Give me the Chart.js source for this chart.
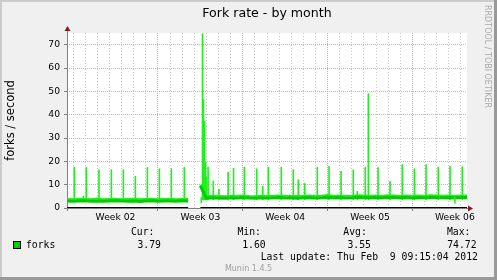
<!DOCTYPE html>
<html>
<head>
<meta charset="utf-8">
<script src="https://cdn.jsdelivr.net/npm/chart.js@4.4.0/dist/chart.umd.min.js"></script>
<style>
  html, body { margin: 0; padding: 0; background: #f0f0f0; }
  canvas { display: block; }
</style>
</head>
<body>
<canvas id="forkChart" width="497" height="280"></canvas>
<script>
// munin "month" graph: 33 days up to Thu Feb 9 09:15:04 2012, x is days since start
const sampleStep = 0.5;

// average forks/s, one value every half day (null = no data)
const avgValues = [
  3.0, 2.9, 3.0, 3.1, 2.9, 3.0, 2.9, 3.0, 3.1, 3.0, 2.9, 3.0, 2.8, 3.0, 3.1, 2.9, 3.0, 3.0, 2.9, 3.1, 3.0,
  null, 9.5,
  4.2, 4.4, 4.3, 4.2, 4.4, 4.3, 4.5, 4.3, 4.2, 4.4, 4.3, 4.4, 4.5, 4.3, 4.4, 4.2, 4.4, 4.5, 4.3, 4.4,
  4.6, 4.4, 4.5, 4.3, 4.4, 4.6, 4.5, 4.4, 4.5, 4.4, 4.6, 4.5, 4.4, 4.5, 4.3, 4.5, 4.4, 4.6, 4.5, 4.4,
  4.5, 4.4, 4.5, 4.5
];

// peak forks/s over the same half days
const maxValues = [
  3.9, 3.8, 4.0, 3.9, 3.8, 4.1, 3.8, 3.9, 4.0, 3.8, 3.9, 4.0, 3.7, 3.9, 4.0, 3.8, 3.9, 4.0, 3.8, 4.0, 3.9,
  null, 10.0,
  5.1, 5.3, 5.2, 5.0, 5.3, 5.2, 5.4, 5.1, 5.0, 5.3, 5.2, 5.3, 5.4, 5.2, 5.3, 5.1, 5.3, 5.4, 5.2, 5.3,
  5.6, 5.3, 5.4, 5.2, 5.3, 5.5, 5.4, 5.3, 5.4, 5.3, 5.5, 5.4, 5.3, 5.4, 5.2, 5.4, 5.3, 5.5, 5.4, 5.3,
  5.4, 5.3, 5.4, 5.4
];

// short bursts (day, forks/s)
const spikeDays = [
  0.60, 1.35, 1.59, 2.64, 3.66, 4.65, 5.64, 6.63, 7.62, 8.61, 9.68,
  11.18, 11.26, 11.35, 11.43, 11.51, 11.64, 12.07, 12.54, 13.29, 13.74, 14.63,
  15.65, 16.15, 16.61, 17.68, 18.67, 19.08, 19.61, 20.65, 21.62, 22.61,
  23.62, 23.95, 24.61, 24.86, 25.66, 26.65, 27.66, 28.66, 29.62, 30.63, 31.60, 32.61
];
const spikeValues = [
  17.5, 5.2, 17.4, 16.4, 16.4, 16.4, 13.6, 17.4, 16.8, 16.8, 17.4,
  74.7, 46.5, 37.2, 19.5, 13.4, 17.5, 11.6, 8.0, 15.3, 17.0, 17.5,
  16.8, 9.3, 17.5, 17.5, 16.4, 12.1, 10.5, 17.5, 17.9, 15.7,
  16.4, 7.1, 17.5, 49.0, 17.3, 11.4, 18.6, 16.8, 18.6, 17.5, 17.9, 17.7
];
const spikeFloor = 3.5;

// dips below the usual level
const dipDays = [11.08, 32.0];
const dipValues = [2.2, 2.1];
const dipCeil = 4.5;

const weekLabels = ['Week 02', 'Week 03', 'Week 04', 'Week 05', 'Week 06'];
const weekLabelDays = [4, 11, 18, 25, 32];
const weekStartDays = [7.5, 14.5, 21.5, 28.5];

const legendHeads = ['Cur:', 'Min:', 'Avg:', 'Max:'];
const legendValues = ['3.79', '1.60', '3.55', '74.72'];
const lastUpdate = 'Last update: Thu Feb  9 09:15:04 2012';

const SANS = '"DejaVu Sans", sans-serif';
const MONO = '"DejaVu Sans Mono", monospace';
const GRID_GRAY = '#c8c8c8';
const GRID_RED = '#e8a4a4';

const toPoints = (vals) => vals.map((v, i) => ({ x: i * sampleStep, y: v }));

const muninFrame = {
  id: 'muninFrame',
  beforeDraw(chart) {
    const { ctx, chartArea: a, width, height } = chart;
    ctx.save();
    ctx.fillStyle = '#f0f0f0';
    ctx.fillRect(0, 0, width, height);
    ctx.fillStyle = '#cbcbcb';
    ctx.fillRect(0, 0, width, 2);
    ctx.fillRect(0, 0, 2, height);
    ctx.fillStyle = '#999999';
    ctx.fillRect(0, height - 3, width, 3);
    ctx.fillRect(width - 3, 0, 3, height);
    ctx.fillStyle = '#ffffff';
    ctx.fillRect(a.left, a.top, a.right - a.left, a.bottom - a.top);
    ctx.restore();
  },
  beforeDatasetsDraw(chart) {
    const { ctx, chartArea: a } = chart;
    const y0 = Math.round(chart.scales.y.getPixelForValue(0)) + 0.5;
    ctx.save();
    ctx.strokeStyle = '#808080';
    ctx.lineWidth = 1;
    ctx.beginPath();
    ctx.moveTo(a.left - 3, y0);
    ctx.lineTo(a.right + 4, y0);
    ctx.moveTo(a.left + 0.5, a.bottom + 3);
    ctx.lineTo(a.left + 0.5, a.top - 4);
    ctx.stroke();
    ctx.restore();
  },
  afterDatasetsDraw(chart) {
    const { ctx, chartArea: a } = chart;
    const y0 = Math.round(chart.scales.y.getPixelForValue(0)) + 0.5;
    const xl = a.left + 0.5;
    ctx.save();
    ctx.fillStyle = '#7f1f1f';
    ctx.beginPath();
    ctx.moveTo(xl - 3, a.top - 2);
    ctx.lineTo(xl + 3, a.top - 2);
    ctx.lineTo(xl, a.top - 7);
    ctx.closePath();
    ctx.fill();
    ctx.beginPath();
    ctx.moveTo(a.right + 1, y0 - 3);
    ctx.lineTo(a.right + 1, y0 + 3);
    ctx.lineTo(a.right + 6, y0);
    ctx.closePath();
    ctx.fill();
    ctx.restore();
  },
  afterDraw(chart) {
    const { ctx, chartArea: a, width } = chart;
    ctx.save();
    ctx.fillStyle = '#000';
    ctx.textBaseline = 'middle';

    ctx.font = '12.6px ' + SANS;
    ctx.textAlign = 'center';
    ctx.fillText('Fork rate - by month', (a.left + a.right) / 2, 13.5);

    ctx.save();
    ctx.translate(11.5, (a.top + a.bottom) / 2);
    ctx.rotate(-Math.PI / 2);
    ctx.font = '11.5px ' + SANS;
    ctx.fillText('forks / second', 0, 0);
    ctx.restore();

    ctx.save();
    ctx.translate(487.5, 5);
    ctx.rotate(Math.PI / 2);
    ctx.textAlign = 'left';
    ctx.fillStyle = '#a8a8a8';
    ctx.font = '8px ' + SANS;
    ctx.fillText('RRDTOOL / TOBI OETIKER', 0, 0);
    ctx.restore();

    // legend
    ctx.fillStyle = '#00cc00';
    ctx.fillRect(13, 241, 8, 8);
    ctx.strokeStyle = '#000';
    ctx.lineWidth = 1;
    ctx.strokeRect(13.5, 241.5, 7, 7);

    ctx.fillStyle = '#000';
    ctx.textAlign = 'left';
    ctx.font = '9.75px ' + MONO;
    ctx.fillText('forks', 26, 245);
    const headX = [131, 237.4, 343.3, 447];
    const valX = [137.5, 242.2, 347.5, 447.2];
    legendHeads.forEach((h, i) => ctx.fillText(h, headX[i], 232.8));
    legendValues.forEach((v, i) => ctx.fillText(v, valX[i], 245));
    ctx.fillText(lastUpdate, 260.7, 257.2);

    ctx.fillStyle = '#a0a0a0';
    ctx.textAlign = 'center';
    ctx.font = '8px ' + SANS;
    ctx.fillText('Munin 1.4.5', width / 2, 268.8);
    ctx.restore();
  }
};

new Chart(document.getElementById('forkChart'), {
  type: 'line',
  data: {
    datasets: [
      {
        type: 'line',
        label: 'zero',
        data: avgValues.map((v, i) => ({ x: i * sampleStep, y: v === null ? null : 0 })),
        borderColor: '#000000',
        borderWidth: 2,
        pointRadius: 0,
        spanGaps: false,
        order: 1
      },
      {
        type: 'bar',
        label: 'dips',
        data: dipDays.map((d, i) => ({ x: d, y: [dipValues[i], dipCeil] })),
        backgroundColor: '#22ee22',
        barThickness: 1,
        grouped: false,
        order: 2
      },
      {
        type: 'line',
        label: 'forks',
        data: toPoints(avgValues),
        borderColor: '#00cc00',
        borderWidth: 3,
        pointRadius: 0,
        spanGaps: false,
        order: 3
      },
      {
        type: 'bar',
        label: 'spikes',
        data: spikeDays.map((d, i) => ({ x: d, y: [spikeFloor, spikeValues[i]] })),
        backgroundColor: '#22ee22',
        barThickness: 1,
        grouped: false,
        order: 4
      },
      {
        type: 'line',
        label: 'peak',
        data: toPoints(maxValues),
        borderColor: '#22ee22',
        borderWidth: 2,
        pointRadius: 0,
        spanGaps: false,
        order: 5
      }
    ]
  },
  options: {
    responsive: false,
    animation: false,
    events: [],
    layout: { padding: { top: 33, right: 30, left: 0, bottom: 0 } },
    plugins: { legend: { display: false }, title: { display: false }, tooltip: { enabled: false } },
    scales: {
      x: {
        type: 'linear',
        min: 0,
        max: 33,
        offset: false,
        afterBuildTicks(scale) {
          const ticks = [];
          for (let d = 0.5; d < 33; d += 1) ticks.push({ value: d });
          weekLabelDays.forEach(d => ticks.push({ value: d }));
          ticks.sort((p, q) => p.value - q.value);
          scale.ticks = ticks;
        },
        afterFit(scale) { scale.height = 72; },
        ticks: {
          autoSkip: false,
          maxRotation: 0,
          padding: 1,
          color: '#000',
          font: { family: SANS, size: 9.2 },
          callback(v) {
            const i = weekLabelDays.indexOf(v);
            return i >= 0 ? weekLabels[i] : '';
          }
        },
        grid: {
          offset: false,
          tickLength: 3,
          color(ctx) {
            if (!ctx.tick) return GRID_GRAY;
            if (weekLabelDays.includes(ctx.tick.value)) return 'rgba(0,0,0,0)';
            return weekStartDays.includes(ctx.tick.value) ? GRID_RED : GRID_GRAY;
          },
          tickColor(ctx) {
            return ctx.tick && weekStartDays.includes(ctx.tick.value) ? '#808080' : 'rgba(0,0,0,0)';
          }
        },
        border: {
          display: false,
          dash(ctx) {
            return ctx.tick && weekStartDays.includes(ctx.tick.value) ? [1, 1] : [1, 2];
          }
        }
      },
      y: {
        min: 0,
        max: 75,
        afterFit(scale) { scale.width = 67; },
        ticks: {
          stepSize: 5,
          padding: 4,
          color: '#000',
          font: { family: SANS, size: 9.2 },
          callback: v => (v % 10 === 0 ? String(v) : '')
        },
        grid: {
          tickLength: 3,
          color: ctx => (ctx.tick && ctx.tick.value % 10 === 0 ? GRID_RED : GRID_GRAY),
          tickColor: ctx => (ctx.tick && ctx.tick.value % 10 === 0 ? '#808080' : 'rgba(0,0,0,0)')
        },
        border: {
          display: false,
          dash: ctx => (ctx.tick && ctx.tick.value % 10 === 0 ? [1, 1] : [1, 2])
        }
      }
    }
  },
  plugins: [muninFrame]
});
</script>
</body>
</html>
